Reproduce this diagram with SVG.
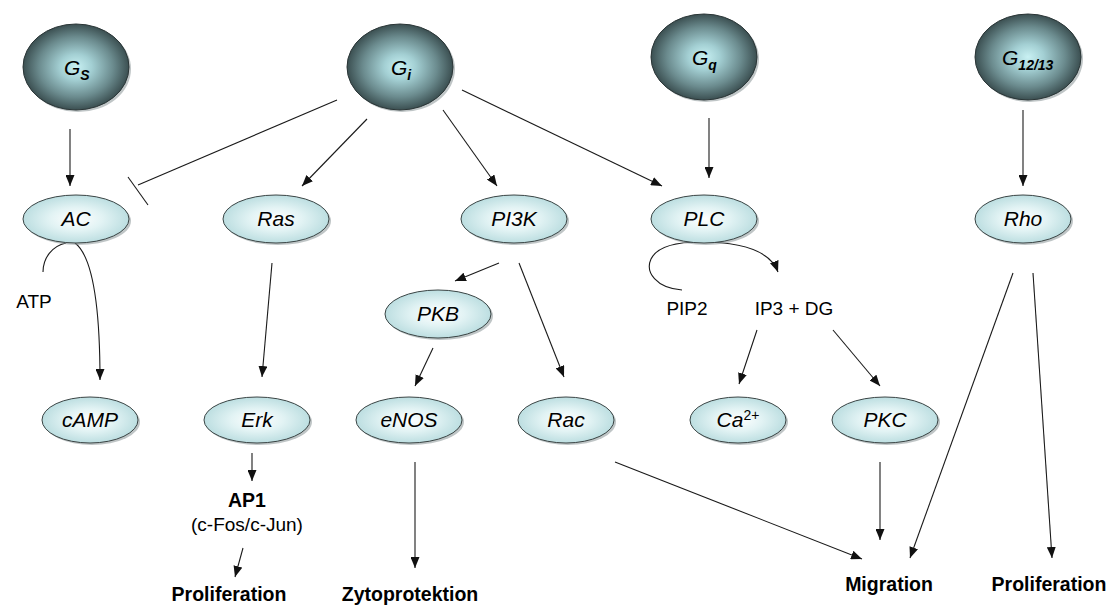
<svg xmlns="http://www.w3.org/2000/svg" width="1110" height="606" viewBox="0 0 1110 606">
<style>
.g-shape{fill:url(#darkGrad);stroke:#2a3536;stroke-width:1}
.n-shape{fill:url(#lightGrad);stroke:#3a4444;stroke-width:1}
.shadow{fill:#8a9698;opacity:0.55}
.glabel{font-family:"Liberation Sans",Arial,sans-serif;font-style:italic;font-size:21px;fill:#000}
.gsub{font-size:14px;font-weight:bold}
.nlabel{font-family:"Liberation Sans",Arial,sans-serif;font-style:italic;font-size:21px;fill:#000;text-anchor:middle}
.plain{font-family:"Liberation Sans",Arial,sans-serif;font-size:19px;fill:#000;text-anchor:middle}
.bold{font-family:"Liberation Sans",Arial,sans-serif;font-size:19.5px;font-weight:bold;fill:#000;text-anchor:middle}
.conn line,.conn path{stroke:#1a1a1a;stroke-width:1.1;fill:none}
.arr{marker-end:url(#ah)}
</style>
<defs>
<radialGradient id="darkGrad" cx="50%" cy="50%" r="50%">
<stop offset="0" stop-color="#c9f1f3"/>
<stop offset="0.3" stop-color="#a3cfd3"/>
<stop offset="0.7" stop-color="#6b8b8e"/>
<stop offset="1" stop-color="#3b4f51"/>
</radialGradient>
<radialGradient id="lightGrad" cx="50%" cy="50%" r="55%">
<stop offset="0" stop-color="#ffffff"/>
<stop offset="0.45" stop-color="#e2f3f4"/>
<stop offset="1" stop-color="#b5dadd"/>
</radialGradient>
<marker id="ah" markerUnits="userSpaceOnUse" markerWidth="11" markerHeight="9" refX="11" refY="4.5" orient="auto">
<path d="M0,0 L11,4.5 L0,9 z" fill="#111"/>
</marker>
</defs>

<g id="connectors" class="conn">
<line class="arr" x1="70" y1="129" x2="70" y2="186"/>
<line x1="337" y1="100" x2="138" y2="185"/>
<line x1="128" y1="177" x2="148" y2="205"/>
<line class="arr" x1="367" y1="119" x2="302" y2="186"/>
<line class="arr" x1="443" y1="110" x2="497" y2="186"/>
<line class="arr" x1="462" y1="90" x2="662" y2="186"/>
<line class="arr" x1="709" y1="118" x2="709" y2="178"/>
<line class="arr" x1="1023" y1="110" x2="1023" y2="186"/>
<path d="M66 243 C52 246 43 258 43 272"/>
<path class="arr" d="M75 243 C92 256 100 300 100 380"/>
<line class="arr" x1="272" y1="263" x2="262" y2="377"/>
<line class="arr" x1="499" y1="263" x2="455" y2="281"/>
<line class="arr" x1="519" y1="263" x2="564" y2="377"/>
<line class="arr" x1="433" y1="348" x2="415" y2="386"/>
<path d="M682 290 C656 288 645 272 651 259 C657 247 676 242 700 242"/>
<path class="arr" d="M700 242 C740 242 770 250 778 272"/>
<line class="arr" x1="757" y1="330" x2="739" y2="384"/>
<line class="arr" x1="833" y1="330" x2="880" y2="386"/>
<line class="arr" x1="252" y1="453" x2="252" y2="481"/>
<line class="arr" x1="243" y1="548" x2="235" y2="577"/>
<line class="arr" x1="415" y1="462" x2="415" y2="568"/>
<line class="arr" x1="615" y1="462" x2="862" y2="559"/>
<line class="arr" x1="880" y1="462" x2="880" y2="540"/>
<line class="arr" x1="1013" y1="273" x2="910" y2="558"/>
<line class="arr" x1="1033" y1="273" x2="1052" y2="558"/>
</g>

<g id="Gs"><ellipse class="shadow" cx="78" cy="69" rx="53" ry="43"/><ellipse class="g-shape" cx="76" cy="67" rx="53" ry="43"/><text class="glabel" x="64" y="75">G<tspan class="gsub" dy="5">S</tspan></text></g>
<g id="Gi"><ellipse class="shadow" cx="402" cy="69" rx="53" ry="43"/><ellipse class="g-shape" cx="400" cy="67" rx="53" ry="43"/><text class="glabel" x="391" y="75">G<tspan class="gsub" dy="5">i</tspan></text></g>
<g id="Gq"><ellipse class="shadow" cx="706" cy="59" rx="53" ry="43"/><ellipse class="g-shape" cx="704" cy="57" rx="53" ry="43"/><text class="glabel" x="692" y="65">G<tspan class="gsub" dy="5">q</tspan></text></g>
<g id="G1213"><ellipse class="shadow" cx="1030" cy="59" rx="53" ry="43"/><ellipse class="g-shape" cx="1028" cy="57" rx="53" ry="43"/><text class="glabel" x="1002" y="65">G<tspan class="gsub" dy="5">12/13</tspan></text></g>

<g id="AC"><ellipse class="shadow" cx="78" cy="221" rx="53" ry="24"/><ellipse class="n-shape" cx="76" cy="219" rx="53" ry="24"/><text class="nlabel" x="76" y="226">AC</text></g>
<g id="Ras"><ellipse class="shadow" cx="278" cy="221" rx="53" ry="24"/><ellipse class="n-shape" cx="276" cy="219" rx="53" ry="24"/><text class="nlabel" x="276" y="226">Ras</text></g>
<g id="PI3K"><ellipse class="shadow" cx="516" cy="221" rx="53" ry="24"/><ellipse class="n-shape" cx="514" cy="219" rx="53" ry="24"/><text class="nlabel" x="514" y="226">PI3K</text></g>
<g id="PLC"><ellipse class="shadow" cx="706" cy="221" rx="53" ry="24"/><ellipse class="n-shape" cx="704" cy="219" rx="53" ry="24"/><text class="nlabel" x="704" y="226">PLC</text></g>
<g id="Rho"><ellipse class="shadow" cx="1025" cy="221" rx="48" ry="24"/><ellipse class="n-shape" cx="1023" cy="219" rx="48" ry="24"/><text class="nlabel" x="1023" y="226">Rho</text></g>
<g id="PKB"><ellipse class="shadow" cx="440" cy="316" rx="53" ry="24"/><ellipse class="n-shape" cx="438" cy="314" rx="53" ry="24"/><text class="nlabel" x="438" y="321">PKB</text></g>
<g id="cAMP"><ellipse class="shadow" cx="92" cy="422" rx="48" ry="23"/><ellipse class="n-shape" cx="90" cy="420" rx="48" ry="23"/><text class="nlabel" x="90" y="427">cAMP</text></g>
<g id="Erk"><ellipse class="shadow" cx="259" cy="422" rx="53" ry="23"/><ellipse class="n-shape" cx="257" cy="420" rx="53" ry="23"/><text class="nlabel" x="257" y="427">Erk</text></g>
<g id="eNOS"><ellipse class="shadow" cx="411" cy="422" rx="53" ry="23"/><ellipse class="n-shape" cx="409" cy="420" rx="53" ry="23"/><text class="nlabel" x="409" y="427">eNOS</text></g>
<g id="Rac"><ellipse class="shadow" cx="568" cy="422" rx="48" ry="23"/><ellipse class="n-shape" cx="566" cy="420" rx="48" ry="23"/><text class="nlabel" x="566" y="427">Rac</text></g>
<g id="Ca"><ellipse class="shadow" cx="740" cy="422" rx="48" ry="23"/><ellipse class="n-shape" cx="738" cy="420" rx="48" ry="23"/><text class="nlabel" x="738" y="427">Ca<tspan font-size="14" font-style="normal" dy="-7">2+</tspan></text></g>
<g id="PKC"><ellipse class="shadow" cx="887" cy="422" rx="53" ry="23"/><ellipse class="n-shape" cx="885" cy="420" rx="53" ry="23"/><text class="nlabel" x="885" y="427">PKC</text></g>

<g id="ATP"><text class="plain" x="34" y="308">ATP</text></g>
<g id="PIP2"><text class="plain" x="687" y="315">PIP2</text></g>
<g id="IP3DG"><text class="plain" x="794" y="315">IP3 + DG</text></g>
<g id="AP1"><text class="bold" x="247" y="507" font-size="19">AP1</text><text class="plain" x="247" y="531" fill="#333">(c-Fos/c-Jun)</text></g>
<g id="Proliferation1"><text class="bold" x="229" y="601">Proliferation</text></g>
<g id="Zytoprotektion"><text class="bold" x="410" y="601">Zytoprotektion</text></g>
<g id="Migration"><text class="bold" x="889" y="591">Migration</text></g>
<g id="Proliferation2"><text class="bold" x="1049" y="591">Proliferation</text></g>
</svg>
